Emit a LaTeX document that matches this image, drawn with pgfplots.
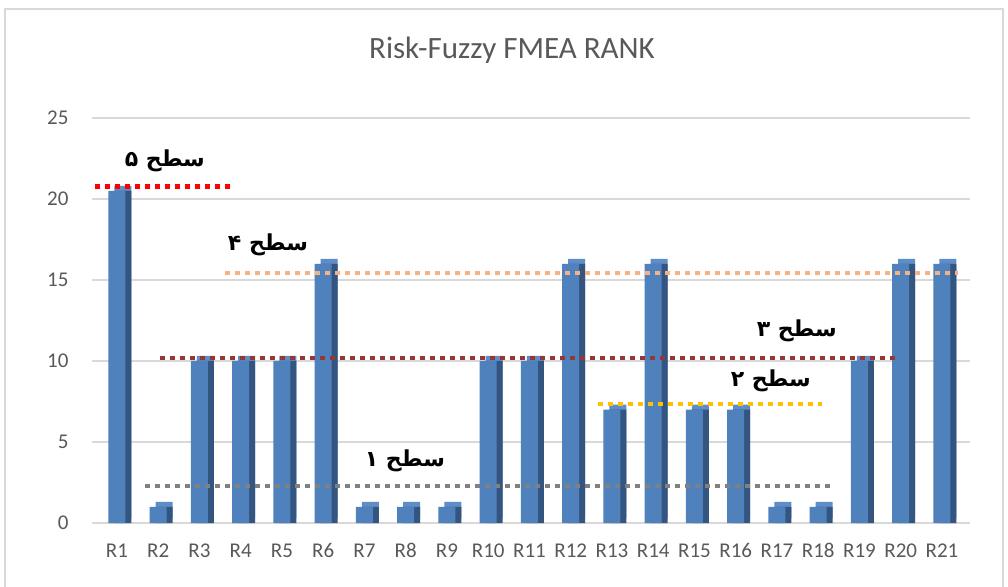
\documentclass[border=0pt]{standalone}
\usepackage{pgfplots}
\usepackage{pgfplotstable}
\pgfplotsset{compat=1.18}
\usepackage{fontspec}
\setmainfont{Carlito}
\newfontfamily\arabicfont[Script=Arabic]{DejaVu Sans}
\TeXXeTstate=1
\definecolor{barfront}{HTML}{4F81BD}
\definecolor{barside}{HTML}{33557F}
\definecolor{bartop}{HTML}{5E8DC8}
\definecolor{gridc}{HTML}{D9D9D9}
\definecolor{txt}{HTML}{595959}
\definecolor{lvfive}{HTML}{FF0000}
\definecolor{lvfour}{HTML}{F4B183}
\definecolor{lvthree}{HTML}{953735}
\definecolor{lvtwo}{HTML}{FFC000}
\definecolor{lvone}{HTML}{808080}
\pgfplotstableread{
x y
1 20.5
2 1
3 10
4 10
5 10
6 16
7 1
8 1
9 1
10 10
11 10
12 16
13 7
14 16
15 7
16 7
17 1
18 1
19 10
20 16
21 16
}\data
\begin{document}
\begin{tikzpicture}[x=1pt,y=1pt]
\useasboundingbox (0,0) rectangle (1008,586);
\fill[white] (0,0) rectangle (1008,586);
\draw[gridc, line width=1.5pt] (5,-10) rectangle (1003,577);
\node[font=\fontsize{31}{36}\selectfont, text=txt] at (512,536) {Risk-Fuzzy FMEA RANK};
\begin{axis}[
  at={(92pt,63pt)}, anchor=south west,
  scale only axis, width=878pt, height=405pt,
  xmin=0.394, xmax=21.68, ymin=0, ymax=25,
  axis line style={draw=none},
  ytick={0,5,...,25},
  xtick={1,...,21},
  xticklabels={R1,R2,R3,R4,R5,R6,R7,R8,R9,R10,R11,R12,R13,R14,R15,R16,R17,R18,R19,R20,R21},
  tick style={draw=none},
  ymajorgrids, grid style={gridc, line width=1.2pt},
  ticklabel style={font=\fontsize{21}{24}\selectfont, text=txt},
  /pgf/number format/assume math mode=true,
  yticklabel style={xshift=-20pt},
  xticklabel style={yshift=-17pt},
  clip=false,
]
\addplot[ybar, bar shift=0pt, bar width=17pt, fill=bartop, draw=none, xshift=6pt, yshift=5pt] table[x=x,y=y] {\data};
\addplot[ybar, bar shift=0pt, bar width=17pt, fill=barside, draw=none, xshift=6pt] table[x=x,y=y] {\data};
\addplot[ybar, bar shift=0pt, bar width=17pt, fill=barfront, draw=none] table[x=x,y=y] {\data};
\addplot[lvfive, line width=5pt, dash pattern=on 5pt off 5pt] coordinates {(0.47,20.8) (3.79,20.8)};
\addplot[lvfour, line width=4.5pt, dash pattern=on 5pt off 5pt] coordinates {(3.62,15.43) (21.39,15.43)};
\addplot[lvthree, line width=4.5pt, dash pattern=on 5pt off 5pt] coordinates {(2.04,10.19) (19.93,10.19)};
\addplot[lvtwo, line width=4.5pt, dash pattern=on 5pt off 5pt] coordinates {(12.66,7.35) (18.09,7.35)};
\addplot[lvone, line width=4.5pt, dash pattern=on 5pt off 5pt] coordinates {(1.68,2.28) (18.28,2.28)};
\node[font=\arabicfont\bfseries\fontsize{22}{26}\selectfont] at (axis cs:2.16,22.35) {\beginR سطح ۵\endR};
\node[font=\arabicfont\bfseries\fontsize{22}{26}\selectfont] at (axis cs:4.66,17.16) {\beginR سطح ۴\endR};
\node[font=\arabicfont\bfseries\fontsize{22}{26}\selectfont] at (axis cs:17.48,11.85) {\beginR سطح ۳\endR};
\node[font=\arabicfont\bfseries\fontsize{22}{26}\selectfont] at (axis cs:16.85,8.77) {\beginR سطح ۲\endR};
\node[font=\arabicfont\bfseries\fontsize{22}{26}\selectfont] at (axis cs:7.98,3.83) {\beginR سطح ۱\endR};
\end{axis}
\end{tikzpicture}
\end{document}
